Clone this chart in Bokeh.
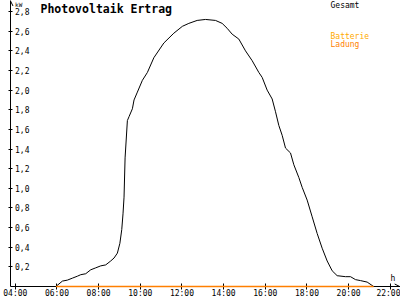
from bokeh.plotting import figure
from bokeh.embed import file_html
from bokeh.resources import INLINE
from bokeh.models import (Range1d, FixedTicker, CustomJSTickFormatter, Label, Arrow, OpenHead)

# ---- data ----
hours = [5.95, 6.26, 6.50, 6.74, 6.98, 7.14, 7.38, 7.62, 7.86, 8.10, 8.34, 8.58, 8.74, 8.90,
         9.02, 9.11, 9.17, 9.22, 9.27, 9.38, 9.46, 9.62, 9.70, 9.86, 10.10, 10.34, 10.65,
         11.13, 11.61, 12.02, 12.33, 12.73, 13.13, 13.61, 13.93, 14.17, 14.41, 14.73, 15.05,
         15.37, 15.69, 15.85, 16.09, 16.33, 16.49, 16.65, 16.81, 16.97, 17.21, 17.37, 17.61,
         17.77, 18.01, 18.25, 18.49, 18.73, 18.97, 19.21, 19.45, 19.85, 20.09, 20.33, 20.57,
         20.89, 21.20]
gesamt_kw = [0.0, 0.055, 0.065, 0.085, 0.105, 0.12, 0.13, 0.17, 0.19, 0.21, 0.22, 0.26, 0.29, 0.34,
             0.44, 0.58, 0.74, 0.91, 1.31, 1.69, 1.73, 1.81, 1.90, 1.98, 2.10, 2.18, 2.33,
             2.48, 2.58, 2.65, 2.68, 2.71, 2.72, 2.71, 2.68, 2.63, 2.57, 2.52, 2.40,
             2.30, 2.18, 2.13, 2.00, 1.91, 1.78, 1.64, 1.54, 1.41, 1.36, 1.24, 1.11,
             1.01, 0.88, 0.71, 0.54, 0.39, 0.26, 0.16, 0.11, 0.10, 0.10, 0.07, 0.06,
             0.045, 0.0]
batt_hours = [5.95, 21.20]
batt_kw = [0.0, 0.0]

x_ticks = [4, 6, 8, 10, 12, 14, 16, 18, 20, 22]
y_ticks = [0.2, 0.4, 0.6, 0.8, 1.0, 1.2, 1.4, 1.6, 1.8, 2.0, 2.2, 2.4, 2.6, 2.8]

title_text = "Photovoltaik Ertrag"
series_names = ["Gesamt", "Batterie", "Ladung"]
unit_y = "kW"
unit_x = "h"

FONT = "DejaVu Sans Mono"
C_GESAMT = "#000000"
C_BATT = "#FFAA00"
C_LAD = "#FF7F00"

X0, X1 = 3.77, 22.49
Y0, Y1 = 0.0, 2.913

p = figure(width=400, height=300, output_backend="svg", toolbar_location=None,
           x_range=Range1d(X0, X1), y_range=Range1d(Y0, Y1),
           min_border_left=10, min_border_right=0, min_border_top=0, min_border_bottom=10)
p.outline_line_color = None
p.grid.visible = False
p.background_fill_color = "white"
p.border_fill_color = "white"

p.line(hours, gesamt_kw, line_color=C_GESAMT, line_width=1)
p.line(batt_hours, batt_kw, line_color=C_LAD, line_width=1.5, level="overlay")

# axes
xa = p.xaxis[0]
xa.ticker = FixedTicker(ticks=x_ticks)
xa.formatter = CustomJSTickFormatter(code="return (tick < 10 ? '0' : '') + tick + ':00';")
xa.major_tick_in = 3
xa.major_tick_out = 3
xa.minor_tick_line_color = None
xa.major_label_standoff = -1
xa.major_label_text_font = FONT
xa.major_label_text_font_size = "8px"
xa.major_label_text_color = "black"
xa.axis_line_color = "black"
xa.major_tick_line_color = "black"

ya = p.yaxis[0]
ya.ticker = FixedTicker(ticks=y_ticks)
ya.formatter = CustomJSTickFormatter(code="return tick.toFixed(1).replace('.', ',');")
ya.major_tick_in = 2
ya.major_tick_out = 2
ya.minor_tick_line_color = None
ya.major_label_standoff = -21
ya.major_label_text_font = FONT
ya.major_label_text_font_size = "8px"
ya.major_label_text_color = "black"
ya.axis_line_color = "black"
ya.major_tick_line_color = "black"

# arrows at axis ends
p.add_layout(Arrow(end=OpenHead(size=5, line_width=1), x_start=X0, y_start=2.8, x_end=X0, y_end=2.908,
                   line_width=1))
p.add_layout(Arrow(end=OpenHead(size=5, line_width=1), x_start=22.2, y_start=Y0, x_end=22.45, y_end=Y0,
                   line_width=1))

# texts
p.add_layout(Label(x=5.21, y=2.893, text=title_text, text_font=FONT, text_font_style="bold",
                   text_font_size="11.5px", text_baseline="top", text_color="black"))
p.add_layout(Label(x=3.99, y=2.908, text=unit_y, text_font=FONT, text_font_size="6px",
                   text_baseline="top", text_color="black"))
p.add_layout(Label(x=22.01, y=0.124, text=unit_x, text_font=FONT, text_font_size="8px",
                   text_baseline="top", text_color="black"))
p.add_layout(Label(x=19.13, y=2.903, text=series_names[0], text_font=FONT, text_font_size="8px",
                   text_baseline="top", text_color=C_GESAMT))
p.add_layout(Label(x=19.13, y=2.593, text=series_names[1], text_font=FONT, text_font_size="8px",
                   text_baseline="top", text_color=C_BATT))
p.add_layout(Label(x=19.13, y=2.513, text=series_names[2], text_font=FONT, text_font_size="8px",
                   text_baseline="top", text_color=C_LAD))

open("out.html", "w").write(file_html(p, INLINE))
